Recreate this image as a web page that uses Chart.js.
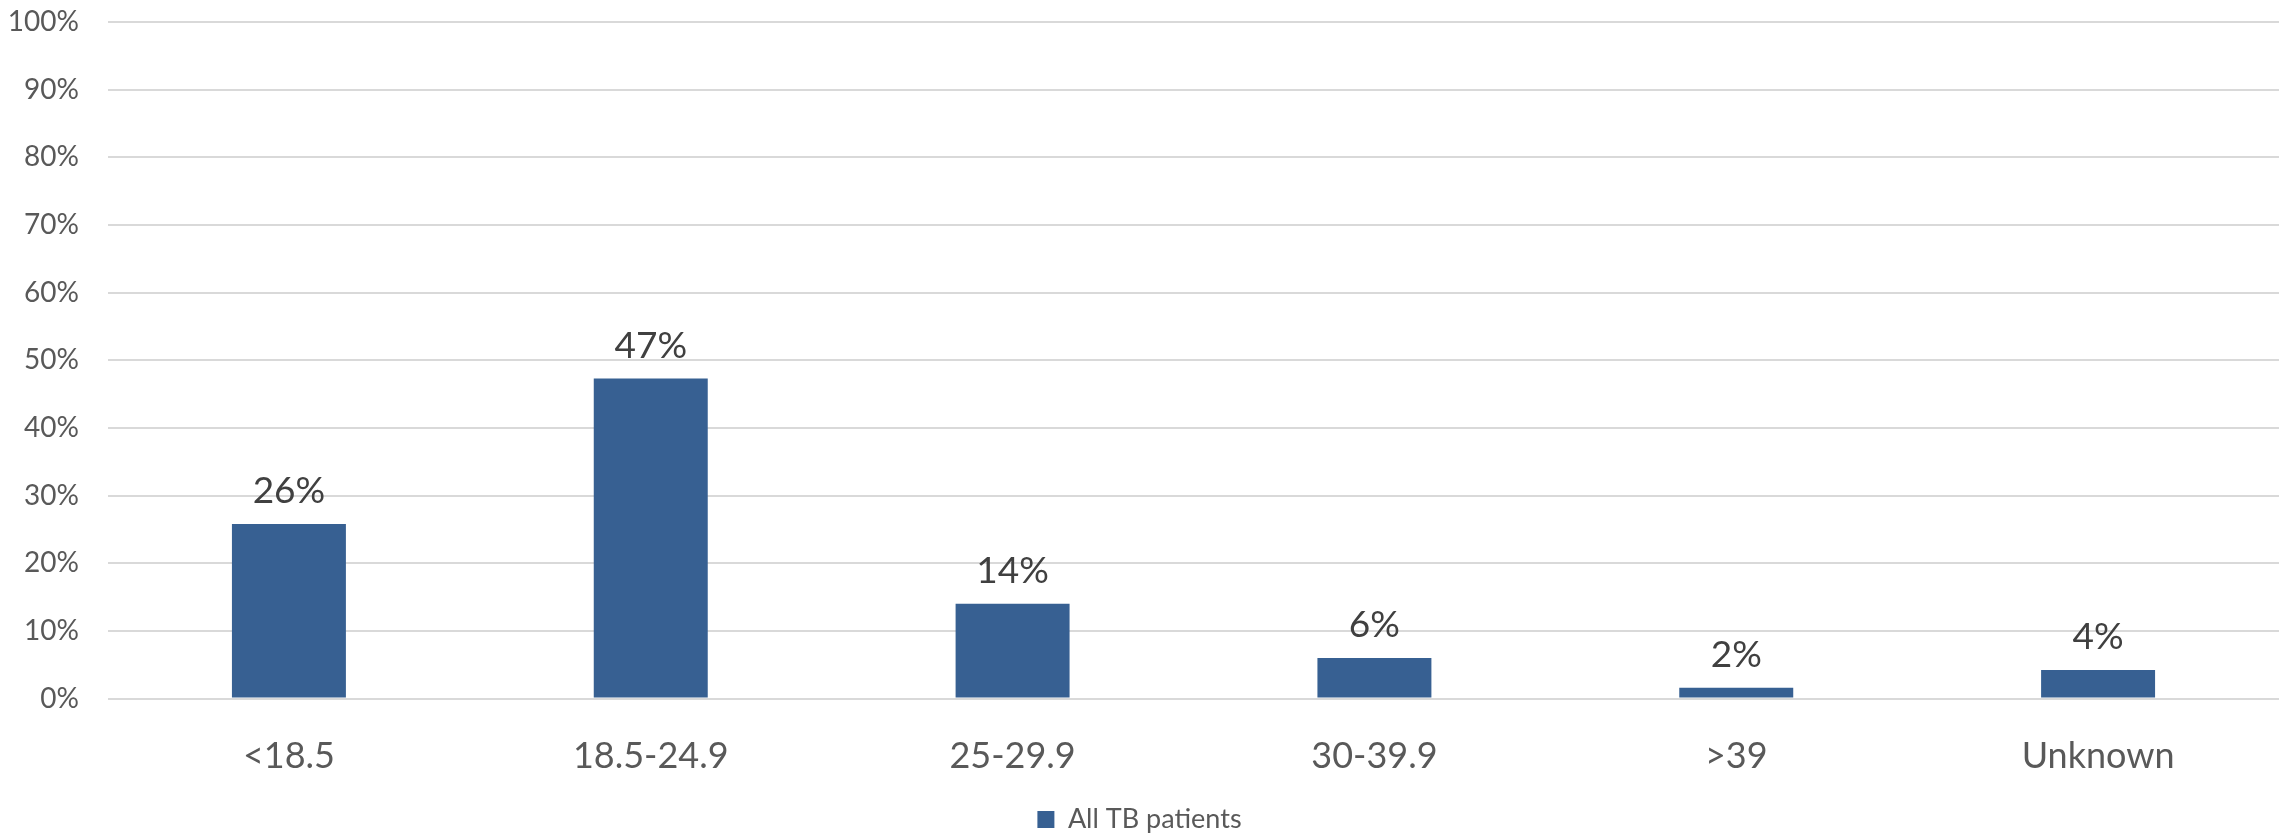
<!DOCTYPE html>
<html>
<head>
<meta charset="utf-8">
<script src="https://cdn.jsdelivr.net/npm/chart.js@4/dist/chart.umd.min.js"></script>
<style>
html,body{margin:0;padding:0;background:#fff;}
#wrap{width:2290px;height:835px;}
</style>
</head>
<body>
<div id="wrap"><canvas id="c" width="2290" height="835"></canvas></div>
<script>
const categories = ["<18.5", "18.5-24.9", "25-29.9", "30-39.9", ">39", "Unknown"];
const seriesName = "All TB patients";
const values = [25.8, 47.3, 14.0, 6.0, 1.6, 4.2];
const yTicks = [0, 10, 20, 30, 40, 50, 60, 70, 80, 90, 100];

const FONT = "Lato, 'Open Sans', sans-serif";
const BAR = "#376092";

const labelPlugin = {
  id: 'valueLabels',
  afterLayout(chart) {
    if (chart.legend) { chart.legend.top += 8; chart.legend.bottom += 8; }
  },
  afterDatasetsDraw(chart) {
    const ctx = chart.ctx;
    const meta = chart.getDatasetMeta(0);
    ctx.save();
    ctx.font = "37px " + FONT;
    ctx.fillStyle = "#404040";
    ctx.textAlign = "center";
    ctx.textBaseline = "alphabetic";
    meta.data.forEach((bar, i) => {
      ctx.fillText(Math.round(values[i]) + "%", bar.x, bar.y - 21);
    });
    ctx.restore();
  }
};

new Chart(document.getElementById('c'), {
  type: 'bar',
  data: {
    labels: categories,
    datasets: [{
      label: seriesName,
      data: values,
      backgroundColor: BAR,
      borderWidth: 0,
      categoryPercentage: 1.0,
      barPercentage: 0.315
    }]
  },
  options: {
    responsive: false,
    animation: false,
    devicePixelRatio: 1,
    layout: { padding: { top: 22, right: 11, left: 0, bottom: 0 } },
    scales: {
      x: {
        grid: { display: false, drawTicks: false },
        border: { display: false },
        ticks: { color: "#595959", font: { family: FONT, size: 36 }, padding: 36 },
        afterFit(s) { s.height = 99.5; s.paddingLeft = 0; s.paddingRight = 0; }
      },
      y: {
        min: 0, max: 100,
        afterBuildTicks(s) { s.ticks = yTicks.map(v => ({ value: v })); },
        grid: { color: "#d9d9d9", lineWidth: 2, drawTicks: false },
        border: { display: false },
        ticks: { color: "#595959", font: { family: FONT, size: 28 }, padding: 29,
                 callback: v => v + "%" },
        afterFit(s) { s.width = 108; s.paddingTop = 0; s.paddingBottom = 0; }
      }
    },
    plugins: {
      legend: {
        position: 'bottom',
        labels: { color: "#595959", font: { family: FONT, size: 27 },
                  boxWidth: 17, boxHeight: 17, padding: 0 }
      },
      tooltip: { enabled: false }
    }
  },
  plugins: [labelPlugin]
});
</script>
</body>
</html>
